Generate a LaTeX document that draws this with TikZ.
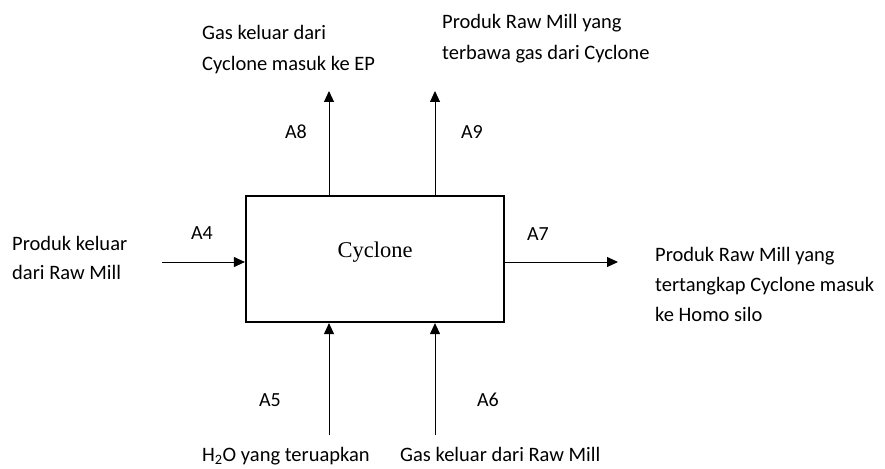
\documentclass[tikz,border=0pt]{standalone}
\usepackage{fontspec}
\setmainfont{Carlito}
\newfontfamily\boxfont{Liberation Serif}
\usetikzlibrary{arrows.meta,positioning}

\begin{document}
\begin{tikzpicture}[x=1pt,y=-1pt,
  flow/.style={-{Triangle[length=11pt,width=10pt]},line width=1pt},
  txt/.style={align=left,inner sep=0pt,anchor=north west,font=\fontsize{20.5}{31}\selectfont},
  lbl/.style={inner sep=0pt,font=\fontsize{20}{24}\selectfont}]
\useasboundingbox (0,0) rectangle (885,468);
% process box
\node[draw,line width=2.2pt,minimum width=258pt,minimum height=126pt,
  label={[font=\boxfont\fontsize{22.5}{26}\selectfont,yshift=7pt]center:Cyclone}] (cyc) at (375,259) {};
% stream ends
\coordinate (inA4) at (162,262);
\coordinate (outA7) at (618,262);
\coordinate (outA8) at (329,91);
\coordinate (outA9) at (435,91);
\coordinate (inA5) at (329,435);
\coordinate (inA6) at (435,435);
\draw[flow] (inA4) -- (inA4 -| cyc.west);
\draw[flow] (outA7 -| cyc.east) -- (outA7);
\draw[flow] (outA8 |- cyc.north) -- (outA8);
\draw[flow] (outA9 |- cyc.north) -- (outA9);
\draw[flow] (inA5) -- (inA5 |- cyc.south);
\draw[flow] (inA6) -- (inA6 |- cyc.south);
% stream labels
\node[lbl] (labA4) at (202,233) {A4};
\node[lbl] (labA7) at (538,234) {A7};
\node[lbl] (labA8) at (296,132) {A8};
\node[lbl] (labA9) at (472,132) {A9};
\node[lbl] (labA5) at (270,400) {A5};
\node[lbl] (labA6) at (488,400) {A6};
% descriptions
\node[txt] (dA8) at (202,25) {Gas keluar dari\\Cyclone masuk ke EP};
\node[txt] (dA9) at (442,14) {Produk Raw Mill yang\\terbawa gas dari Cyclone};
\node[txt,font=\fontsize{20.5}{29}\selectfont] (dA4) at (12,236) {Produk keluar\\dari Raw Mill};
\node[txt,font=\fontsize{20.5}{30}\selectfont] (dA7) at (655,247) {Produk Raw Mill yang\\tertangkap Cyclone masuk\\ke Homo silo};
\node[txt] (dA5) at (202,447) {H\textsubscript{2}O yang teruapkan};
\node[txt] (dA6) at (400,447) {Gas keluar dari Raw Mill};
\end{tikzpicture}
\end{document}
